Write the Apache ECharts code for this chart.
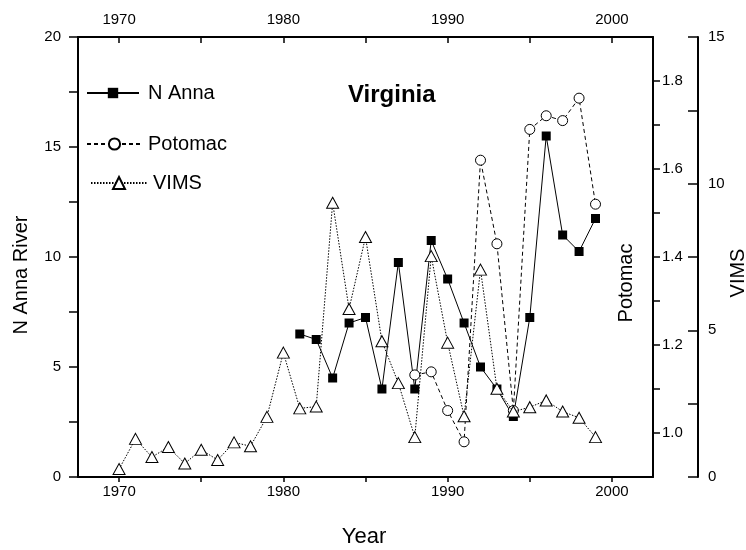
<!DOCTYPE html>
<html>
<head>
<meta charset="utf-8">
<script src="https://cdn.jsdelivr.net/npm/echarts@6/dist/echarts.min.js"></script>
<style>
  html, body { margin: 0; padding: 0; background: #fff; }
  #chart { width: 746px; height: 550px; }
</style>
</head>
<body>
<div id="chart"></div>
<script>
// Annual series for the three Virginia records
const nAnnaYears = [1981, 1982, 1983, 1984, 1985, 1986, 1987, 1988, 1989, 1990,
                    1991, 1992, 1993, 1994, 1995, 1996, 1997, 1998, 1999];
const nAnnaValues = [6.5, 6.25, 4.5, 7.0, 7.25, 4.0, 9.75, 4.0, 10.75, 9.0,
                     7.0, 5.0, 4.0, 2.75, 7.25, 15.5, 11.0, 10.25, 11.75];

const potomacYears = [1988, 1989, 1990, 1991, 1992, 1993, 1994, 1995, 1996, 1997, 1998, 1999];
const potomacValues = [1.132, 1.139, 1.051, 0.980, 1.620, 1.430, 1.051, 1.690, 1.721, 1.710, 1.761, 1.520];

const vimsYears = [1970, 1971, 1972, 1973, 1974, 1975, 1976, 1977, 1978, 1979,
                   1980, 1981, 1982, 1983, 1984, 1985, 1986, 1987, 1988, 1989,
                   1990, 1991, 1992, 1993, 1994, 1995, 1996, 1997, 1998, 1999];
const vimsValues = [0.27, 1.30, 0.68, 1.02, 0.46, 0.93, 0.58, 1.18, 1.05, 2.05,
                    4.24, 2.34, 2.40, 9.35, 5.73, 8.18, 4.63, 3.20, 1.36, 7.53,
                    4.58, 2.07, 7.07, 3.01, 2.23, 2.38, 2.61, 2.23, 2.02, 1.36];

// Tick and label positions
const yearTicks = [1970, 1975, 1980, 1985, 1990, 1995, 2000];
const yearLabels = [1970, 1980, 1990, 2000];
const nAnnaTicks = [0, 2.5, 5, 7.5, 10, 12.5, 15, 17.5, 20];
const nAnnaLabels = [0, 5, 10, 15, 20];
const potomacTicks = [1.0, 1.1, 1.2, 1.3, 1.4, 1.5, 1.6, 1.7, 1.8];
const potomacLabels = [1.0, 1.2, 1.4, 1.6, 1.8];
const vimsTicks = [0, 2.5, 5, 7.5, 10, 12.5, 15];
const vimsLabels = [0, 5, 10, 15];

const FONT = '"Liberation Sans", Arial, Helvetica, sans-serif';
const pairs = (xs, ys) => xs.map((x, i) => [x, ys[i]]);

const axisLine = { show: true, onZero: false, lineStyle: { color: '#000', width: 2 } };
const labelStyle = { color: '#000', fontSize: 15, fontFamily: FONT };
const plain = v => String(v);

const chart = echarts.init(document.getElementById('chart'), null, { renderer: 'canvas' });

chart.setOption({
  backgroundColor: '#fff',
  animation: false,
  grid: { left: 78, right: 93, top: 37, bottom: 73, containLabel: false },
  xAxis: [
    {
      type: 'value', position: 'bottom', min: 1967.5, max: 2002.5,
      axisLine: axisLine,
      axisTick: { show: true, customValues: yearTicks, length: 5, inside: false,
                  lineStyle: { color: '#000', width: 1.5 } },
      axisLabel: Object.assign({ customValues: yearLabels, margin: 7, formatter: plain }, labelStyle),
      splitLine: { show: false }
    },
    {
      type: 'value', position: 'top', min: 1967.5, max: 2002.5,
      axisLine: axisLine,
      axisTick: { show: true, customValues: yearTicks, length: 6, inside: true,
                  lineStyle: { color: '#000', width: 1.5 } },
      axisLabel: Object.assign({ customValues: yearLabels, margin: 10, formatter: plain }, labelStyle),
      splitLine: { show: false }
    }
  ],
  yAxis: [
    {
      type: 'value', position: 'left', min: 0, max: 20,
      axisLine: axisLine,
      axisTick: { show: true, customValues: nAnnaTicks, length: 9, inside: false,
                  lineStyle: { color: '#000', width: 1.5 } },
      axisLabel: Object.assign({ customValues: nAnnaLabels, margin: 17, formatter: plain }, labelStyle),
      splitLine: { show: false }
    },
    {
      type: 'value', position: 'right', offset: 0, min: 0.9, max: 1.9,
      axisLine: axisLine,
      axisTick: { show: true, customValues: potomacTicks, length: 7, inside: false,
                  lineStyle: { color: '#000', width: 1.5 } },
      axisLabel: Object.assign({ customValues: potomacLabels, margin: 9,
                                 formatter: v => Number(v).toFixed(1) }, labelStyle),
      splitLine: { show: false }
    },
    {
      type: 'value', position: 'right', offset: 45, min: 0, max: 15,
      axisLine: axisLine,
      axisTick: { show: true, customValues: vimsTicks, length: 10, inside: true,
                  lineStyle: { color: '#000', width: 1.5 } },
      axisLabel: Object.assign({ customValues: vimsLabels, margin: 10, formatter: plain }, labelStyle),
      splitLine: { show: false }
    }
  ],
  legend: [
    {
      data: ['N Anna'], left: 86, top: 83, padding: 0,
      itemWidth: 52, itemHeight: 13,
      textStyle: { color: '#000', fontSize: 20, fontFamily: FONT, padding: [0, 0, 0, 4] }
    },
    {
      data: ['Potomac'], left: 86, top: 134, padding: 0,
      itemWidth: 55, itemHeight: 14,
      textStyle: { color: '#000', fontSize: 20, fontFamily: FONT, padding: [0, 0, 0, 1] }
    },
    {
      data: ['VIMS'], left: 90, top: 173, padding: 0,
      itemWidth: 56, itemHeight: 15,
      textStyle: { color: '#000', fontSize: 20, fontFamily: FONT, padding: [0, 0, 0, 1] }
    }
  ],
  series: [
    {
      name: 'N Anna', type: 'line', xAxisIndex: 0, yAxisIndex: 0,
      data: pairs(nAnnaYears, nAnnaValues),
      symbol: 'rect', symbolSize: 9,
      lineStyle: { color: '#000', width: 1, type: 'solid' },
      itemStyle: { color: '#000', borderColor: '#000', borderWidth: 0 },
      z: 2
    },
    {
      name: 'Potomac', type: 'line', xAxisIndex: 0, yAxisIndex: 1,
      data: pairs(potomacYears, potomacValues),
      symbol: 'circle', symbolSize: 10, showAllSymbol: true,
      lineStyle: { color: '#000', width: 1, type: [4, 3] },
      itemStyle: { color: '#fff', borderColor: '#000', borderWidth: 1 },
      z: 3
    },
    {
      name: 'VIMS', type: 'line', xAxisIndex: 0, yAxisIndex: 2,
      data: pairs(vimsYears, vimsValues),
      symbol: 'triangle', symbolSize: [12, 11], showAllSymbol: true,
      lineStyle: { color: '#000', width: 1, type: [1.5, 1.5] },
      itemStyle: { color: '#fff', borderColor: '#000', borderWidth: 1 },
      z: 4
    }
  ],
  graphic: [
    { type: 'text', x: 348, y: 95,
      style: { text: 'Virginia', font: 'bold 24px ' + FONT, fill: '#000',
               textAlign: 'left', textVerticalAlign: 'middle' } },
    { type: 'text', x: 21, y: 275, rotation: Math.PI / 2,
      style: { text: 'N Anna River', font: '20px ' + FONT, fill: '#000',
               textAlign: 'center', textVerticalAlign: 'middle' } },
    { type: 'text', x: 626, y: 283, rotation: Math.PI / 2,
      style: { text: 'Potomac', font: '20px ' + FONT, fill: '#000',
               textAlign: 'center', textVerticalAlign: 'middle' } },
    { type: 'text', x: 738, y: 273, rotation: Math.PI / 2,
      style: { text: 'VIMS', font: '20px ' + FONT, fill: '#000',
               textAlign: 'center', textVerticalAlign: 'middle' } },
    { type: 'text', x: 364, y: 537,
      style: { text: 'Year', font: '22px ' + FONT, fill: '#000',
               textAlign: 'center', textVerticalAlign: 'middle' } }
  ]
});
</script>
</body>
</html>
